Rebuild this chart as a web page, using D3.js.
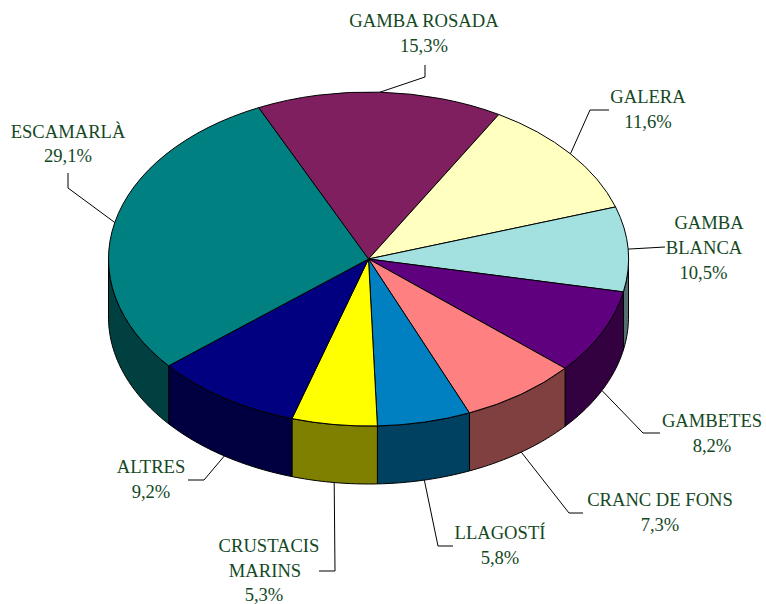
<!DOCTYPE html>
<html>
<head>
<meta charset="utf-8">
<script src="https://cdnjs.cloudflare.com/ajax/libs/d3/7.8.5/d3.min.js"></script>
<style>
html,body{margin:0;padding:0;background:#fff}
svg{display:block}
text{font-family:"Liberation Serif",serif;font-size:18.6px;fill:#14481f;text-anchor:middle}
</style>
</head>
<body>
<svg id="c" width="766" height="604"></svg>
<script>
// Slice order runs clockwise from the Gamba Rosada edge
const categories = ["GAMBA ROSADA","GALERA","GAMBA BLANCA","GAMBETES","CRANC DE FONS","LLAGOSTÍ","CRUSTACIS MARINS","ALTRES","ESCAMARLÀ"];
const sliceValues = [15.3,11.6,8.2,8.2,7.3,5.8,5.3,9.2,29.1]; // share of the circle as drawn
const printedLabels = ["15,3%","11,6%","10,5%","8,2%","7,3%","5,8%","5,3%","9,2%","29,1%"]; // as printed on the chart
const labelLines = [["GAMBA ROSADA"],["GALERA"],["GAMBA","BLANCA"],["GAMBETES"],["CRANC DE FONS"],["LLAGOSTÍ"],["CRUSTACIS","MARINS"],["ALTRES"],["ESCAMARLÀ"]];
const topColors = ["#7F1F5F","#FFFFC0","#A3E0E0","#5F007F","#FF8080","#0080C0","#FFFF00","#000080","#008080"];
const sideColors = ["#400F30","#808060","#527070","#330040","#804040","#004060","#808000","#000040","#004040"];

// Layout
const cx=368.5, cy=259, rx=260, ry=167, depth=58;
const startAngle = -25*Math.PI/180;
const labelPos = [
  {x:[424],y:[27,52],leader:[[425,65],[425,77]]},
  {x:[648],y:[103,128],leader:[[609,110],[590,110]]},
  {x:[709,704,703.5],y:[229,254,279],leader:[[665,247]]},
  {x:[712],y:[427,452],leader:[[660,433],[643,433]]},
  {x:[660],y:[506,531],leader:[[583,513],[569,513]]},
  {x:[500],y:[539,564],leader:[[453,546],[438,546]]},
  {x:[269,265,264],y:[552,577,601],leader:[[319,571],[335,571]]},
  {x:[151],y:[473,498],leader:[[188,480],[204,480]]},
  {x:[68],y:[138,162],leader:[[68,173],[68,188]]}
];

const svg = d3.select("#c");
const pie = d3.pie().sort(null).startAngle(startAngle).endAngle(startAngle+2*Math.PI);
const arcs = pie(sliceValues);
const xS = d3.scaleLinear().domain([-1,1]).range([cx-rx,cx+rx]);
const yS = d3.scaleLinear().domain([-1,1]).range([cy-ry,cy+ry]);
const px = a => xS(Math.sin(a));
const py = a => yS(-Math.cos(a));

// Side wall: visible only where the rim lies on the lower half (angle 90°..270°)
const lo = Math.PI/2, hi = 3*Math.PI/2;
const line = d3.line();
function sidePath(d){
  const a0=Math.max(d.startAngle,lo), a1=Math.min(d.endAngle,hi);
  if(a1<=a0) return null;
  const n=Math.max(2,Math.ceil((a1-a0)*60));
  const as=d3.range(n+1).map(i=>a0+(a1-a0)*i/n);
  const topPts=as.map(a=>[px(a),py(a)]);
  const botPts=as.slice().reverse().map(a=>[px(a),py(a)+depth]);
  return line(topPts.concat(botPts))+"Z";
}
svg.append("g").selectAll("path").data(arcs).join("path")
  .attr("d",sidePath)
  .attr("fill",(d,i)=>sideColors[i])
  .attr("stroke","#000").attr("stroke-width",1).attr("stroke-linejoin","round");

// Top face: a d3.arc circle squashed into the ellipse
const arc = d3.arc().innerRadius(0).outerRadius(rx);
svg.append("g").attr("transform",`translate(${cx},${cy}) scale(1,${ry/rx})`)
  .selectAll("path").data(arcs).join("path")
  .attr("d",arc)
  .attr("fill",(d,i)=>topColors[i])
  .attr("stroke","#000").attr("stroke-width",1)
  .attr("vector-effect","non-scaling-stroke");

// Leader lines, from each slice's mid-angle on the visible rim
const leaders = svg.append("g");
arcs.forEach((d,i)=>{
  const mid=(d.startAngle+d.endAngle)/2;
  const onWall = Math.cos(mid)<-0.05;
  const anchor=[px(mid),py(mid)+(onWall?depth:0)];
  leaders.append("path")
    .attr("d",line(labelPos[i].leader.concat([anchor])))
    .attr("fill","none").attr("stroke","#000").attr("stroke-width",1);
});

// Labels
const labels = svg.append("g");
categories.forEach((c,i)=>{
  const p=labelPos[i];
  const rows=labelLines[i].concat([printedLabels[i]]);
  rows.forEach((t,j)=>{
    labels.append("text")
      .attr("x",p.x[Math.min(j,p.x.length-1)])
      .attr("y",p.y[j])
      .text(t);
  });
});
</script>
</body>
</html>
